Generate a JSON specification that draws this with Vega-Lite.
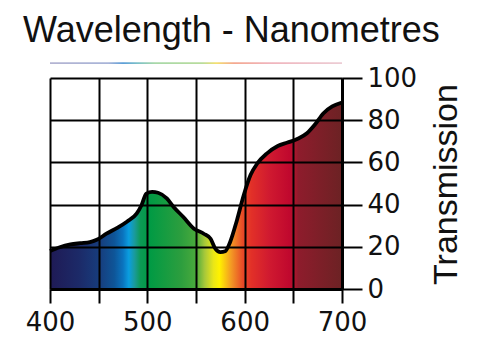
{
  "$schema": "https://vega.github.io/schema/vega-lite/v6.json",
  "width": 292,
  "height": 211,
  "autosize": "none",
  "padding": {"left": 50, "top": 78, "right": 158, "bottom": 63},
  "background": "white",
  "title": {
    "text": "Wavelength - Nanometres",
    "anchor": "start",
    "frame": "group",
    "font": "Liberation Sans",
    "fontSize": 36,
    "fontWeight": "normal",
    "color": "#111111",
    "dx": -27,
    "dy": 22,
    "baseline": "alphabetic",
    "offset": 6
  },
  "config": {
    "view": {"stroke": null},
    "axis": {
      "labelFont": "DejaVu Sans",
      "labelFontSize": 26,
      "labelColor": "#111111",
      "labelFlush": false,
      "labelOverlap": false,
      "titleFont": "Liberation Sans",
      "titleFontSize": 34,
      "titleFontWeight": "normal",
      "titleColor": "#111111",
      "domainColor": "#000000",
      "domainWidth": 3,
      "tickColor": "#000000",
      "tickWidth": 2,
      "gridColor": "#000000",
      "gridWidth": 2,
      "gridOpacity": 1
    }
  },
  "data": {
    "values": [
      {"nm": 400, "T": 18},
      {"nm": 410, "T": 19.8},
      {"nm": 421, "T": 21.1},
      {"nm": 431, "T": 21.7},
      {"nm": 441, "T": 22.2},
      {"nm": 448, "T": 23.3},
      {"nm": 458, "T": 26.2},
      {"nm": 469, "T": 29},
      {"nm": 479, "T": 31.9},
      {"nm": 489, "T": 35.7},
      {"nm": 494, "T": 39.7},
      {"nm": 499, "T": 45.2},
      {"nm": 505, "T": 46},
      {"nm": 511, "T": 45.6},
      {"nm": 520, "T": 42.9},
      {"nm": 527, "T": 38.9},
      {"nm": 537, "T": 34.1},
      {"nm": 548, "T": 28.6},
      {"nm": 558, "T": 26.2},
      {"nm": 565, "T": 23.8},
      {"nm": 570, "T": 19},
      {"nm": 575, "T": 17.5},
      {"nm": 580, "T": 17.9},
      {"nm": 585, "T": 22.2},
      {"nm": 592, "T": 32.5},
      {"nm": 599, "T": 44.4},
      {"nm": 606, "T": 54},
      {"nm": 613, "T": 59.5},
      {"nm": 623, "T": 64.3},
      {"nm": 634, "T": 67.8},
      {"nm": 644, "T": 69.4},
      {"nm": 654, "T": 71.1},
      {"nm": 664, "T": 73.8},
      {"nm": 672, "T": 77.8},
      {"nm": 681, "T": 83.3},
      {"nm": 690, "T": 86.5},
      {"nm": 700, "T": 88.4}
    ]
  },
  "encoding": {
    "x": {
      "field": "nm",
      "type": "quantitative",
      "scale": {"domain": [400, 700], "nice": false, "zero": false},
      "axis": {
        "title": null,
        "values": [400, 450, 500, 550, 600, 650, 700],
        "labelExpr": "datum.value % 100 == 0 ? datum.label : ''",
        "tickSize": 14,
        "labelPadding": 6,
        "grid": true,
        "zindex": 1
      }
    },
    "y": {
      "field": "T",
      "type": "quantitative",
      "scale": {"domain": [0, 100], "nice": false},
      "axis": {
        "title": "Transmission",
        "orient": "right",
        "values": [0, 20, 40, 60, 80, 100],
        "tickSize": 20,
        "labelPadding": 5,
        "labelAlign": "left",
        "titleAngle": 270,
        "titleX": 121,
        "titleY": 106,
        "grid": true,
        "zindex": 1
      }
    }
  },
  "layer": [
    {
      "mark": {
        "type": "area",
        "interpolate": "monotone",
        "color": {
          "gradient": "linear",
          "x1": 0, "x2": 1, "y1": 0, "y2": 0,
          "stops": [
            {"offset": 0, "color": "#1f1a55"},
            {"offset": 0.1, "color": "#1c2a68"},
            {"offset": 0.17, "color": "#173d7d"},
            {"offset": 0.22, "color": "#0e5598"},
            {"offset": 0.25, "color": "#0a74bf"},
            {"offset": 0.27, "color": "#0a9ee0"},
            {"offset": 0.29, "color": "#1a9a9a"},
            {"offset": 0.31, "color": "#0c9a55"},
            {"offset": 0.34, "color": "#009a44"},
            {"offset": 0.45, "color": "#2d9e3e"},
            {"offset": 0.5, "color": "#4aaa3c"},
            {"offset": 0.53, "color": "#a8c83a"},
            {"offset": 0.56, "color": "#eae617"},
            {"offset": 0.58, "color": "#fff200"},
            {"offset": 0.62, "color": "#f39a24"},
            {"offset": 0.66, "color": "#e84a28"},
            {"offset": 0.69, "color": "#e23028"},
            {"offset": 0.75, "color": "#d01a30"},
            {"offset": 0.82, "color": "#c0082e"},
            {"offset": 0.84, "color": "#a8162d"},
            {"offset": 0.85, "color": "#8e1c2c"},
            {"offset": 1, "color": "#6c2224"}
          ]
        }
      }
    },
    {
      "mark": {"type": "line", "interpolate": "monotone", "color": "#000000", "strokeWidth": 3.8}
    },
    {
      "data": {"values": [{"lo": 106.6, "hi": 107.5, "a": 400, "b": 700}]},
      "mark": {
        "type": "rect",
        "clip": false,
        "color": {
          "gradient": "linear",
          "x1": 0, "x2": 1, "y1": 0, "y2": 0,
          "stops": [
            {"offset": 0, "color": "#b4b4d2"},
            {"offset": 0.2, "color": "#a8b4d8"},
            {"offset": 0.25, "color": "#5c9ed8"},
            {"offset": 0.3, "color": "#7cc0c8"},
            {"offset": 0.36, "color": "#a8d8a8"},
            {"offset": 0.52, "color": "#b8dc9c"},
            {"offset": 0.57, "color": "#f4e070"},
            {"offset": 0.63, "color": "#f4a890"},
            {"offset": 0.75, "color": "#f0b4bc"},
            {"offset": 1, "color": "#ecccd4"}
          ]
        }
      },
      "encoding": {
        "x": {"field": "a", "type": "quantitative"},
        "x2": {"field": "b"},
        "y": {"field": "lo", "type": "quantitative"},
        "y2": {"field": "hi"}
      }
    }
  ]
}
